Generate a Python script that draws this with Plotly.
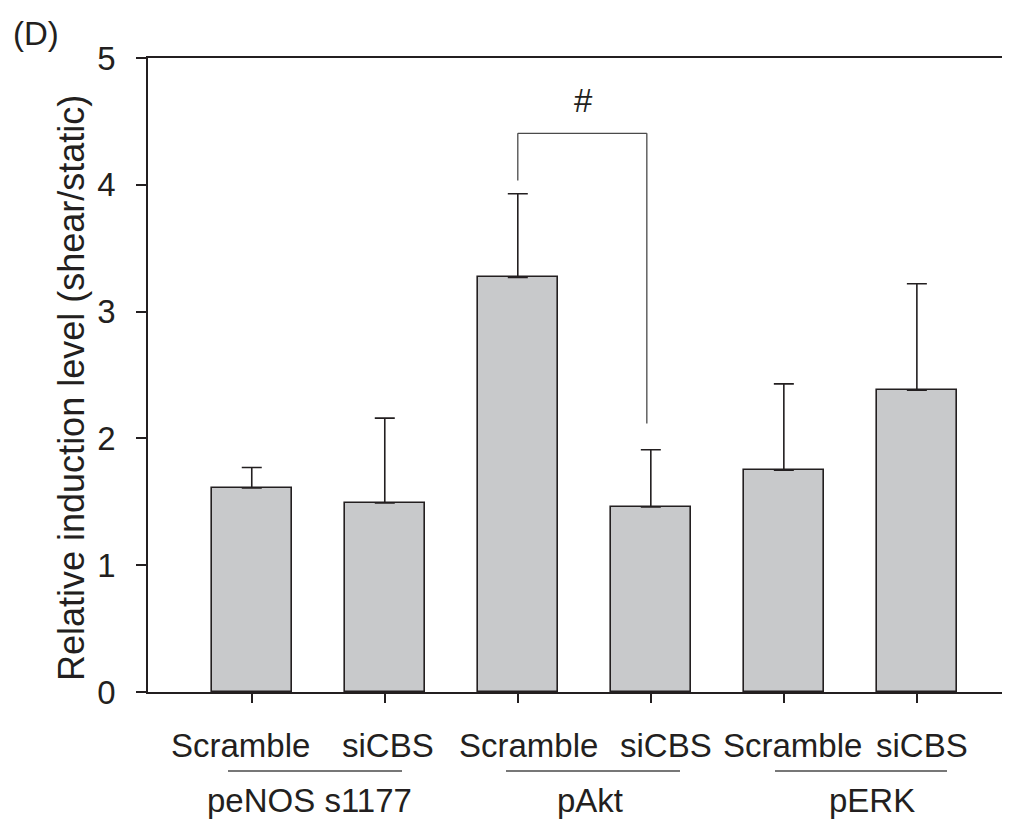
import plotly.graph_objects as go

# ---- data ----
conditions = ["Scramble", "siCBS", "Scramble", "siCBS", "Scramble", "siCBS"]
groups = ["peNOS s1177", "pAkt", "pERK"]
means = [1.61, 1.49, 3.27, 1.46, 1.75, 2.38]
errors_up = [0.16, 0.67, 0.66, 0.45, 0.68, 0.84]
y_ticks = [0, 1, 2, 3, 4, 5]
panel_label = "(D)"
y_title = "Relative induction level (shear/static)"
sig_mark = "#"

# ---- layout constants (pixels, in reference-screen coordinates) ----
OFF = 8  # page body margin
W, H = 1012 - OFF, 826 - OFF
L, R, T, B = 148 - OFF, 10, 58 - OFF, 134
plot_w = W - L - R
plot_h = H - T - B
x_lo, x_hi = -0.78, 5.64

def px_to_x(px):
    return x_lo + (px - OFF - L) / plot_w * (x_hi - x_lo)

def px_to_paper(px):
    return (px - OFF - L) / plot_w

def py_to_paper(py):
    return (H - B - (py - OFF)) / plot_h

DARK = "#231f20"
FONT = "Liberation Sans, Arial, sans-serif"
FS = 33

xs = list(range(len(means)))

fig = go.Figure()
fig.add_trace(go.Bar(
    x=xs, y=means, width=0.6,
    marker=dict(color="#c8c9cb", line=dict(color=DARK, width=1.6)),
    error_y=dict(type="data", symmetric=False, array=errors_up,
                 arrayminus=[0] * len(means), color=DARK, thickness=1.6, width=10),
    showlegend=False,
))

annotations = []
cond_px = [240, 388, 528, 666, 792, 922]
for lab, px in zip(conditions, cond_px):
    annotations.append(dict(x=px_to_x(px), y=py_to_paper(745), xref="x", yref="paper",
                            text=lab, showarrow=False, xanchor="center", yanchor="middle",
                            font=dict(family=FONT, size=FS, color=DARK)))
group_px = [309, 590, 872]
for lab, px in zip(groups, group_px):
    annotations.append(dict(x=px_to_x(px), y=py_to_paper(800), xref="x", yref="paper",
                            text=lab, showarrow=False, xanchor="center", yanchor="middle",
                            font=dict(family=FONT, size=FS, color=DARK)))
annotations.append(dict(x=px_to_paper(71), y=py_to_paper(388), xref="paper", yref="paper",
                        text=y_title, textangle=-90, showarrow=False,
                        xanchor="center", yanchor="middle",
                        font=dict(family=FONT, size=36, color=DARK)))
annotations.append(dict(x=px_to_paper(36), y=py_to_paper(33), xref="paper", yref="paper",
                        text=panel_label, showarrow=False, xanchor="center", yanchor="middle",
                        font=dict(family=FONT, size=FS, color=DARK)))
annotations.append(dict(x=px_to_x(583), y=py_to_paper(100), xref="x", yref="paper",
                        text=sig_mark, showarrow=False, xanchor="center", yanchor="middle",
                        font=dict(family=FONT, size=FS, color=DARK)))

shapes = []
for a, b in [(228, 402), (506, 680), (775, 947)]:
    shapes.append(dict(type="line", xref="x", yref="paper",
                       x0=px_to_x(a), x1=px_to_x(b), y0=py_to_paper(771), y1=py_to_paper(771),
                       line=dict(color="#4a4a4a", width=1.3)))
br_top = 4.406
br_left_bottom = 4.034
br_right_bottom = 2.118
gray = "#4a4a4a"
for x0, x1, y0, y1 in [(2, 2.97, br_top, br_top), (2, 2, br_top, br_left_bottom),
                       (2.97, 2.97, br_top, br_right_bottom)]:
    shapes.append(dict(type="line", xref="x", yref="y", x0=x0, x1=x1, y0=y0, y1=y1,
                       line=dict(color=gray, width=1.3)))

fig.update_layout(
    width=W, height=H,
    margin=dict(l=L, r=R, t=T, b=B, pad=0),
    paper_bgcolor="white", plot_bgcolor="white",
    annotations=annotations, shapes=shapes,
    bargap=0,
)
fig.update_xaxes(
    range=[x_lo, x_hi], tickvals=xs, ticktext=[""] * len(xs),
    ticks="outside", ticklen=9, tickwidth=1.6, tickcolor=DARK,
    showline=True, linecolor=DARK, linewidth=1.6, mirror=True,
    showgrid=False, zeroline=False,
)
fig.update_yaxes(
    range=[0, 5], tickvals=y_ticks, ticks="outside", ticklen=10, tickwidth=1.6,
    tickcolor=DARK, showline=True, linecolor=DARK, linewidth=1.6,
    showgrid=False, zeroline=False, ticklabelstandoff=14,
    tickfont=dict(family=FONT, size=FS, color=DARK),
)

fig.write_html("out.html")
